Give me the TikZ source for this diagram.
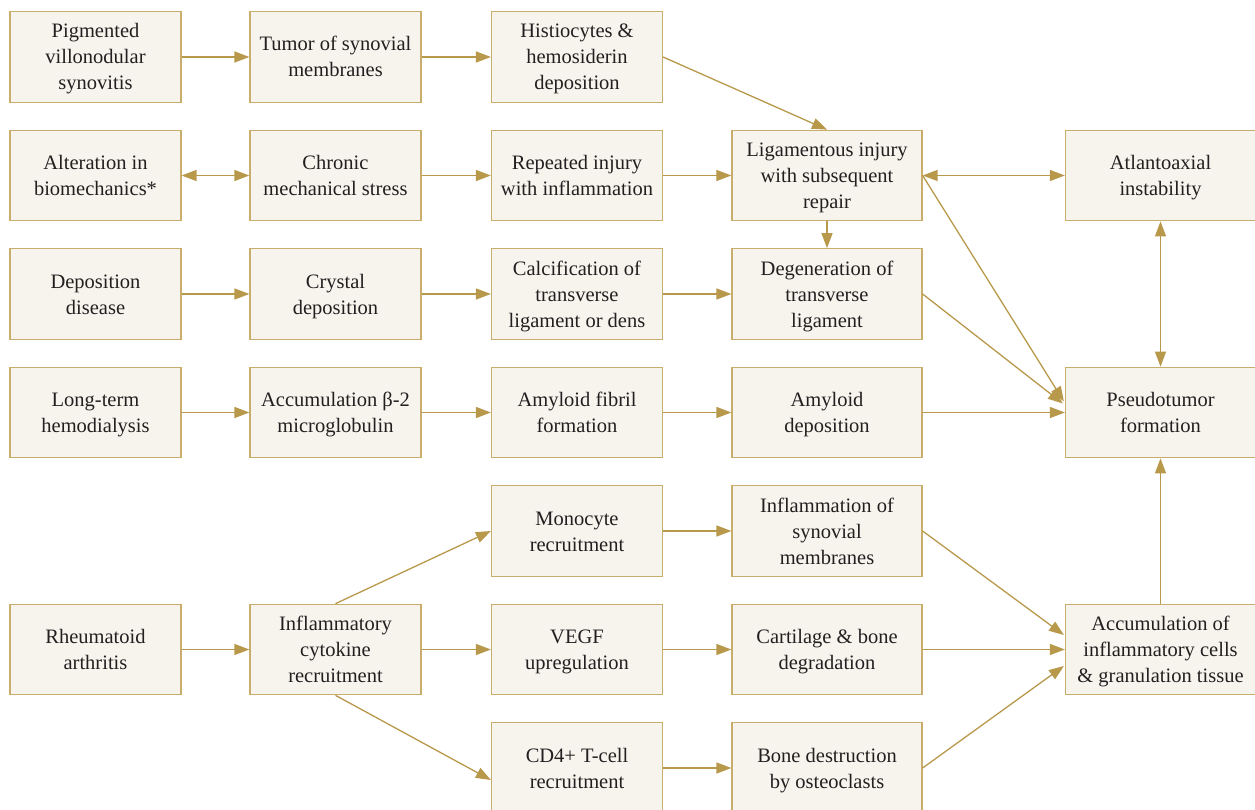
\documentclass[tikz,border=0pt]{standalone}
\usepackage{fontspec}
\setmainfont{Liberation Serif}
\usetikzlibrary{arrows.meta,calc}
\definecolor{arr}{HTML}{B8994B}
\definecolor{bord}{HTML}{C8AD6C}
\definecolor{bfill}{HTML}{F7F4EE}
\definecolor{txt}{HTML}{231F20}
\newcommand\sh{\rule{0pt}{20pt}}
\newcommand\sd{\rule[-6pt]{0pt}{6pt}}
\tikzset{
  box/.style={draw=bord, fill=bfill, line width=1.2pt, minimum height=90.5pt,
    align=center, text=txt, font=\fontsize{20.5}{26}\selectfont, inner sep=0pt},
  wa/.style={box, minimum width=171pt},
  wb/.style={box, minimum width=190pt},
  arrow/.style={draw=arr, line width=1.3pt, -{Triangle[length=15pt,width=11pt]}},
  darrow/.style={draw=arr, line width=1.3pt, {Triangle[length=15pt,width=11pt]}-{Triangle[length=15pt,width=11pt]}}
}
\begin{document}
\begin{tikzpicture}[x=1pt,y=-1pt]
\useasboundingbox (0,0) rectangle (1255,810);
% row 1
\node[wa] (a1) at (95.5,57) {\sh Pigmented\\villonodular\\synovitis\sd};
\node[wa] (a2) at (335.5,57) {\sh Tumor of synovial\\membranes\sd};
\node[wa] (a3) at (577,57) {\sh Histiocytes \&\\hemosiderin\\deposition\sd};
% row 2
\node[wa] (b1) at (95.5,175.5) {\sh Alteration in\\biomechanics*\sd};
\node[wa] (b2) at (335.5,175.5) {\sh Chronic\\mechanical stress\sd};
\node[wa] (b3) at (577,175.5) {\sh Repeated injury\\with inflammation\sd};
\node[wb] (b4) at (827,175.5) {\sh Ligamentous injury\\with subsequent\\repair\sd};
\node[wb] (b5) at (1160.5,175.5) {\sh Atlantoaxial\\instability\sd};
% row 3
\node[wa] (c1) at (95.5,294) {\sh Deposition\\disease\sd};
\node[wa] (c2) at (335.5,294) {\sh Crystal\\deposition\sd};
\node[wa] (c3) at (577,294) {\sh Calcification of\\transverse\\ligament or dens\sd};
\node[wb] (c4) at (827,294) {\sh Degeneration of\\transverse\\ligament\sd};
% row 4
\node[wa] (d1) at (95.5,412.5) {\sh Long-term\\hemodialysis\sd};
\node[wa] (d2) at (335.5,412.5) {\sh Accumulation β-2\\microglobulin\sd};
\node[wa] (d3) at (577,412.5) {\sh Amyloid fibril\\formation\sd};
\node[wb] (d4) at (827,412.5) {\sh Amyloid\\deposition\sd};
\node[wb] (d5) at (1160.5,412.5) {\sh Pseudotumor\\formation\sd};
% row 5
\node[wa] (e3) at (577,531) {\sh Monocyte\\recruitment\sd};
\node[wb] (e4) at (827,531) {\sh Inflammation of\\synovial\\membranes\sd};
% row 6
\node[wa] (f1) at (95.5,649.5) {\sh Rheumatoid\\arthritis\sd};
\node[wa] (f2) at (335.5,649.5) {\sh Inflammatory\\cytokine\\recruitment\sd};
\node[wa] (f3) at (577,649.5) {\sh VEGF\\upregulation\sd};
\node[wb] (f4) at (827,649.5) {\sh Cartilage \& bone\\degradation\sd};
\node[wb] (f5) at (1160.5,649.5) {\sh Accumulation of\\inflammatory cells\\\& granulation tissue\sd};
% row 7
\node[wa] (g3) at (577,768) {\sh CD4+ T-cell\\recruitment\sd};
\node[wb] (g4) at (827,768) {\sh Bone destruction\\by osteoclasts\sd};

% connectors
\draw[arrow] (a1) -- (a2);
\draw[arrow] (a2) -- (a3);
\draw[arrow] (a3.east) -- (b4.north);
\draw[darrow] (b1) -- (b2);
\draw[arrow] (b2) -- (b3);
\draw[arrow] (b3) -- (b4);
\draw[darrow] (b4) -- (b5);
\draw[arrow] (b4) -- (c4);
\draw[arrow] (b4.east) -- ($(d5.west)+(-1,-11)$);
\draw[arrow] (c1) -- (c2);
\draw[arrow] (c2) -- (c3);
\draw[arrow] (c3) -- (c4);
\draw[arrow] (c4.east) -- ($(d5.west)+(-2,-9)$);
\draw[arrow] (d1) -- (d2);
\draw[arrow] (d2) -- (d3);
\draw[arrow] (d3) -- (d4);
\draw[arrow] (d4) -- (d5);
\draw[darrow] (b5) -- (d5);
\draw[arrow] (f5) -- (d5);
\draw[arrow] (f1) -- (f2);
\draw[arrow] (f2.north) -- (e3.west);
\draw[arrow] (f2) -- (f3);
\draw[arrow] (f2.south) -- ($(g3.west)+(0,12)$);
\draw[arrow] (e3) -- (e4);
\draw[arrow] (f3) -- (f4);
\draw[arrow] (g3) -- (g4);
\draw[arrow] (e4.east) -- ($(f5.west)+(-1,-14.5)$);
\draw[arrow] (f4) -- (f5);
\draw[arrow] (g4.east) -- ($(f5.west)+(-1,16.5)$);
\end{tikzpicture}
\end{document}
